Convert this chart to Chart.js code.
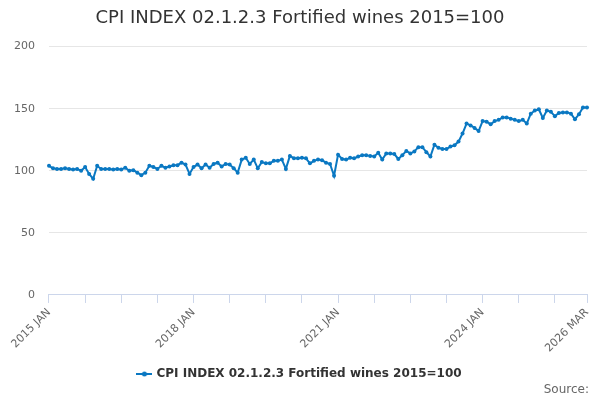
<!DOCTYPE html>
<html>
<head>
<meta charset="utf-8">
<script src="https://cdn.jsdelivr.net/npm/chart.js@4/dist/chart.umd.min.js"></script>
<style>
  html, body { margin: 0; padding: 0; background: #fff; }
  #wrap { width: 600px; height: 400px; }
</style>
</head>
<body>
<div id="wrap"><canvas id="cpiChart" width="600" height="400"></canvas></div>
<script>
// Series: CPI INDEX 02.1.2.3 Fortified wines, monthly 2015 JAN .. 2026 MAR
const seriesName = 'CPI INDEX 02.1.2.3 Fortified wines 2015=100';
const startYear = 2015;
const monthNames = ['JAN', 'FEB', 'MAR', 'APR', 'MAY', 'JUN', 'JUL', 'AUG', 'SEP', 'OCT', 'NOV', 'DEC'];
const yTicks = [0, 50, 100, 150, 200];

const values2015to2017 = [
    104, 102, 101.5, 101.5, 102, 101.5, 101, 101.5, 100, 103, 97.5, 93.5,
    104, 101.5, 101.5, 101.5, 101, 101.5, 101, 102.5, 100, 100.5, 98.5, 96.5,
    98.5, 104, 103, 101.5, 104, 102.5, 103.5, 104.5, 104.5, 106.5, 105, 97.5
];
const values2018to2020 = [
    103, 105, 102, 105, 102.5, 105.5, 106.5, 103.5, 105.5, 105, 102, 98.5,
    109, 110.5, 105.5, 109, 102, 107, 106, 106, 108, 108, 109, 101.5,
    112, 110, 110, 110.5, 110, 106, 108, 109, 108.5, 106.5, 105.5, 96
];
const values2021to2023 = [
    113, 109.5, 109, 110.5, 110, 111.5, 112.5, 112.5, 112, 111.5, 114.5, 109,
    114, 114, 113.5, 109.5, 112.5, 116, 114, 115.5, 119, 119, 115, 111.5,
    121, 118.5, 117.5, 117.5, 119.5, 120.5, 123.5, 130, 138, 136.5, 134.5, 132
];
const values2024to2026 = [
    140, 139.5, 137.5, 140, 141, 143, 143, 142, 141, 140, 141, 138,
    146, 148.5, 149.5, 142.5, 148.5, 147.5, 144, 146.5, 147, 147, 146, 141.5,
    145.5, 151, 151
];

const cpiValues = [].concat(values2015to2017, values2018to2020, values2021to2023, values2024to2026);
const monthLabels = cpiValues.map((v, i) => (startYear + Math.floor(i / 12)) + ' ' + monthNames[i % 12]);
const lastIndex = cpiValues.length - 1;

const lineColor = '#0a78c2';
const fontFamily = '"DejaVu Sans", Verdana, Arial, sans-serif';

// legend symbol: short line with a dot in the middle
function legendSymbol() {
    const c = document.createElement('canvas');
    c.width = 16;
    c.height = 8;
    const g = c.getContext('2d');
    g.strokeStyle = lineColor;
    g.lineWidth = 2;
    g.beginPath();
    g.moveTo(0, 4);
    g.lineTo(16, 4);
    g.stroke();
    g.fillStyle = lineColor;
    g.beginPath();
    g.arc(8, 4, 2.5, 0, Math.PI * 2);
    g.fill();
    return c;
}

// "Source:" credit in the bottom right corner
const sourceCredit = {
    id: 'sourceCredit',
    afterDraw(chart) {
        const g = chart.ctx;
        g.save();
        g.font = '12px ' + fontFamily;
        g.fillStyle = '#666666';
        g.textAlign = 'right';
        g.textBaseline = 'middle';
        g.fillText('Source:', chart.width - 11, chart.height - 10);
        g.restore();
    }
};

function createCpiChart() {
    const ctx = document.getElementById('cpiChart');
    if (!ctx) return;

    new Chart(ctx, {
        type: 'line',
        data: {
            labels: monthLabels,
            datasets: [{
                label: seriesName,
                data: cpiValues,
                borderColor: lineColor,
                backgroundColor: lineColor,
                borderWidth: 2,
                pointRadius: 2,
                pointHoverRadius: 3,
                pointBorderWidth: 0,
                pointStyle: 'circle',
                tension: 0
            }]
        },
        plugins: [sourceCredit],
        options: {
            responsive: false,
            animation: false,
            layout: {
                padding: { left: 0, right: 0, top: 4, bottom: 10 }
            },
            plugins: {
                title: {
                    display: true,
                    text: seriesName,
                    color: '#333333',
                    font: { family: fontFamily, size: 18, weight: 'normal' },
                    padding: { top: 4, bottom: 17 }
                },
                legend: {
                    position: 'bottom',
                    labels: {
                        color: '#333333',
                        font: { family: fontFamily, size: 12, weight: 'bold' },
                        usePointStyle: true,
                        pointStyle: legendSymbol(),
                        padding: 10
                    }
                },
                tooltip: { enabled: false }
            },
            scales: {
                x: {
                    type: 'category',
                    offset: false,
                    // keep the plot clear of the right edge without shifting the title
                    afterFit: (scale) => {
                        scale.paddingRight = Math.max(scale.paddingRight, 13);
                    },
                    border: { display: true, color: '#ccd6eb', width: 1 },
                    grid: {
                        display: true,
                        drawOnChartArea: false,
                        drawTicks: true,
                        tickLength: 8,
                        tickColor: (c) => (c.index % 9 === 0 || c.index === lastIndex) ? '#ccd6eb' : 'rgba(0,0,0,0)'
                    },
                    ticks: {
                        autoSkip: false,
                        minRotation: 45,
                        maxRotation: 45,
                        color: '#666666',
                        font: { family: fontFamily, size: 11 },
                        callback: function (val, index) {
                            return (index % 36 === 0 || index === lastIndex) ? monthLabels[index] : '';
                        }
                    }
                },
                y: {
                    min: 0,
                    max: 200,
                    afterBuildTicks: (axis) => {
                        axis.ticks = yTicks.map(v => ({ value: v }));
                    },
                    border: { display: false },
                    grid: {
                        color: '#e6e6e6',
                        drawTicks: false
                    },
                    ticks: {
                        padding: 14,
                        color: '#666666',
                        font: { family: fontFamily, size: 11 }
                    }
                }
            }
        }
    });
}

createCpiChart();
</script>
</body>
</html>
